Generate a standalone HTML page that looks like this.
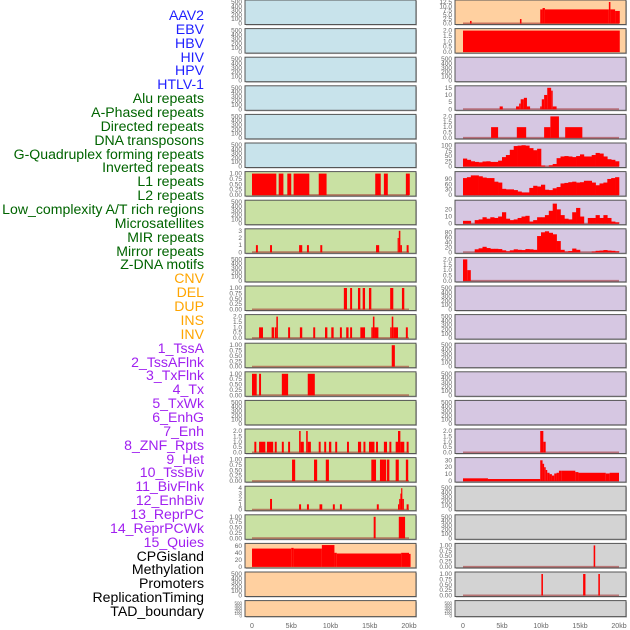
<!DOCTYPE html>
<html><head><meta charset="utf-8">
<style>
body{margin:0;background:#fff;width:630px;height:630px;overflow:hidden;font-family:"Liberation Sans",sans-serif}
#labels{position:absolute;left:0;top:0;width:204px}
.lb{position:absolute;right:0;font-size:14.1px;line-height:14px;white-space:nowrap}
svg{position:absolute;left:0;top:0}
</style></head><body>
<div id="labels"></div>
<svg id="chart" width="630" height="630"></svg>
<script>
const trackNames=["AAV2","EBV","HBV","HIV","HPV","HTLV-1","Alu repeats","A-Phased repeats","Directed repeats","DNA transposons","G-Quadruplex forming repeats","Inverted repeats","L1 repeats","L2 repeats","Low_complexity A/T rich regions","Microsatellites","MIR repeats","Mirror repeats","Z-DNA motifs","CNV","DEL","DUP","INS","INV","1_TssA","2_TssAFlnk","3_TxFlnk","4_Tx","5_TxWk","6_EnhG","7_Enh","8_ZNF_Rpts","9_Het","10_TssBiv","11_BivFlnk","12_EnhBiv","13_ReprPC","14_ReprPCWk","15_Quies","CPGisland","Methylation","Promoters","ReplicationTiming","TAD_boundary"];
const trackColors=["#1f1fff","#1f1fff","#1f1fff","#1f1fff","#1f1fff","#1f1fff","#006400","#006400","#006400","#006400","#006400","#006400","#006400","#006400","#006400","#006400","#006400","#006400","#006400","#ffa500","#ffa500","#ffa500","#ffa500","#ffa500","#a020f0","#a020f0","#a020f0","#a020f0","#a020f0","#a020f0","#a020f0","#a020f0","#a020f0","#a020f0","#a020f0","#a020f0","#a020f0","#a020f0","#a020f0","#000","#000","#000","#000","#000"];
const xTicks=[0,5,10,15,20];
const xTickLabels=["0","5kb","10kb","15kb","20kb"];

const leftL1=[[0,3.1,1],[3.4,4.0,1],[4.5,5.0,1],[5.3,7.3,1],[8.5,9.5,1],[15.7,16.4,1],[16.8,17.3,1],[19.6,20.1,1]];
const leftMIR=[[0.5,0.75,1],[2.3,2.55,1],[6.0,6.4,1],[7.0,7.25,1],[8.7,8.95,1],[15.8,16.2,1],[18.55,18.7,2],[18.7,18.9,3],[18.9,19.1,1],[19.7,19.95,1]];
const leftDEL=[[11.7,12.1,1],[12.5,12.75,1],[13.5,13.8,1],[14.1,14.4,1],[14.9,15.2,1],[17.6,18.0,1],[19.1,19.4,1]];
const leftINS=[[0.9,1.4,1],[2.5,2.8,1],[2.9,3.1,1],[3.1,3.3,2],[4.6,4.85,1],[6.1,6.4,1],[7.8,8.05,1],[9.3,9.6,1],[10.1,10.4,1],[11.2,11.45,1],[12.0,12.3,1],[12.5,12.75,1],[13.8,14.4,1],[15.2,15.4,1],[15.4,15.6,2],[15.6,16.1,1],[17.6,17.8,1],[17.8,18.0,2],[18.0,18.6,1],[19.6,19.85,1]];
const leftTssA=[[17.8,18.2,1]];
const leftTxFlnk=[[0,0.6,1],[0.9,1.15,1],[3.8,4.6,1],[7.1,8.0,1]];
const leftEnh=[[0.3,0.55,1],[0.9,1.7,1],[1.9,2.7,1],[2.9,3.15,1],[3.8,4.05,1],[4.6,4.85,1],[6.0,6.2,2],[6.2,6.6,1],[6.9,7.1,2],[7.1,7.5,1],[8.5,8.75,1],[9.2,9.45,1],[9.8,10.1,1],[10.6,10.85,1],[12.1,12.35,1],[13.5,13.9,1],[14.2,14.45,1],[14.9,15.6,1],[15.8,16.05,1],[16.8,17.2,1],[17.5,17.75,1],[18.3,18.6,1],[18.6,18.9,2],[18.9,19.4,1],[19.7,19.95,1]];
const leftHet=[[5.1,5.5,1],[7.9,8.3,1],[9.4,9.8,1],[15.2,15.8,1],[16.3,17.1,1],[17.2,17.5,1],[18.3,18.7,1],[19.6,19.9,1]];
const leftBivFlnk=[[2.3,2.55,2],[6.0,6.25,1],[7.0,7.25,1],[8.6,8.95,1],[10.3,10.55,1],[11.2,11.45,1],[15.9,16.15,1],[18.6,18.75,1],[18.75,18.9,2],[18.9,19.0,3],[19.0,19.15,4],[19.15,19.35,2],[19.7,19.95,1]];
const leftReprPC=[[15.5,15.75,1],[18.7,19.5,1]];
const leftCPG=[[0,5.0,52],[5.0,5.3,54],[5.3,8.9,52],[8.9,10.5,62],[10.5,10.8,40],[10.8,19.0,38],[19.0,20.0,40],[20.0,20.2,37]];
const rightAAV2=[[0.9,1.1,1.5],[7.3,7.5,2.6],[9.9,10.2,8.2],[10.2,10.5,9],[10.5,18.7,8.2],[18.7,18.9,12.5],[18.9,19.5,8.2],[19.5,20.1,7.3]];
const rightEBV=[[0,20.1,2]];
const rightAlu=[[4.7,5.1,2],[6.8,7.2,2],[7.2,7.4,4],[7.4,7.8,7],[7.8,8.2,8],[8.2,8.6,2],[9.9,10.1,2],[10.1,10.4,7],[10.4,10.8,10],[10.8,11.3,15],[11.3,11.5,13],[11.5,12.0,2]];
const rightDirected=[[3.6,4.5,1],[6.9,8.1,1],[10.4,11.2,1],[11.2,12.3,2],[13.1,15.3,1]];
const rightGquad=[38,32,25,22,20,24,25,22,22,28,45,55,80,98,100,102,100,88,78,85,5,0,6,12,40,48,50,48,45,50,58,48,48,55,65,62,48,35,32,25];
const rightL1=[95,100,110,110,105,98,95,95,75,70,35,32,32,28,20,15,15,40,52,48,58,30,28,38,45,65,68,72,75,70,72,80,80,70,55,65,70,90,95,100];
const rightL2=[4,4,0,5,6,9,7,9,8,10,16,7,5,6,8,10,11,3,5,9,9,12,18,28,20,12,7,6,16,22,10,0,8,8,12,8,12,8,3,2];
const rightMIR=[0,0,0,12,16,22,17,14,14,13,8,4,8,12,10,9,13,12,10,65,80,84,78,72,45,10,3,5,15,10,0,0,0,3,6,7,9,7,6,4];
const rightZDNA=[[0,0.55,2],[0.55,1.0,1]];
const rightEnh=[[9.9,10.3,2],[10.3,10.6,1]];
const rightTssBiv=[[0,3.2,4],[3.2,9.9,3],[9.9,10.2,30],[10.2,10.4,25],[10.4,10.6,20],[10.6,10.8,16],[10.8,11.1,12],[11.1,11.4,10],[11.4,11.7,8],[11.7,12.0,11],[12.0,12.3,12],[12.3,12.6,15],[12.6,14.4,15],[14.4,14.8,13],[14.8,18.3,12],[18.3,18.8,11],[18.8,20.0,12]];
const rightCPG=[[16.75,16.95,1]];
const rightMeth=[[10.05,10.25,1],[15.4,15.7,1],[17.35,17.55,1]];

const tEmpty=[0,100,200,300,400,500], tEmptyL=["0","100","200","300","400","500"];
const t1=[0,0.25,0.5,0.75,1], t1L=["0.00","0.25","0.50","0.75","1.00"];
const t2=[0,0.5,1,1.5,2], t2L=["0.0","0.5","1.0","1.5","2.0"];

const BL="#c8e3eb",GR="#c9e1a3",PE="#ffd0a0",LV="#d6c7e2",GY="#d3d3d3";
const leftPanels=[
 {bg:BL},{bg:BL},{bg:BL},{bg:BL},{bg:BL},{bg:BL},
 {bg:GR,seg:leftL1,max:1,t:t1,tl:t1L},
 {bg:GR},
 {bg:GR,seg:leftMIR,max:3,t:[0,1,2,3],tl:["0","1","2","3"]},
 {bg:GR},
 {bg:GR,seg:leftDEL,max:1,t:t1,tl:t1L},
 {bg:GR,seg:leftINS,max:2,t:t2,tl:t2L},
 {bg:GR,seg:leftTssA,max:1,t:t1,tl:t1L},
 {bg:GR,seg:leftTxFlnk,max:1,t:t1,tl:t1L},
 {bg:GR},
 {bg:GR,seg:leftEnh,max:2,t:t2,tl:t2L},
 {bg:GR,seg:leftHet,max:1,t:t1,tl:t1L},
 {bg:GR,seg:leftBivFlnk,max:4,t:[0,1,2,3,4],tl:["0","1","2","3","4"]},
 {bg:GR,seg:leftReprPC,max:1,t:t1,tl:t1L},
 {bg:PE,seg:leftCPG,max:61,t:[0,20,40,60],tl:["0","20","40","60"],nobase:1},
 {bg:PE},{bg:PE}];
const rightPanels=[
 {bg:PE,seg:rightAAV2,max:12.5,t:[0,2.5,5,7.5,10,12.5],tl:["0.0","2.5","5.0","7.5","10.0","12.5"]},
 {bg:PE,seg:rightEBV,max:2,t:t2,tl:t2L,nobase:1},
 {bg:LV},
 {bg:LV,seg:rightAlu,max:15,t:[0,5,10,15],tl:["0","5","10","15"]},
 {bg:LV,seg:rightDirected,max:2,t:t2,tl:t2L},
 {bg:LV,bins:rightGquad,max:103,t:[0,25,50,75,100],tl:["0","25","50","75","100"]},
 {bg:LV,bins:rightL1,max:120,t:[0,30,60,90],tl:["0","30","60","90"]},
 {bg:LV,bins:rightL2,max:30,t:[0,10,20],tl:["0","10","20"]},
 {bg:LV,bins:rightMIR,max:86,t:[0,20,40,60,80],tl:["0","20","40","60","80"]},
 {bg:LV,seg:rightZDNA,max:2,t:t2,tl:t2L},
 {bg:LV},{bg:LV},{bg:LV},{bg:LV},{bg:LV},
 {bg:LV,seg:rightEnh,max:2,t:t2,tl:t2L},
 {bg:LV,seg:rightTssBiv,max:31,t:[0,10,20,30],tl:["0","10","20","30"]},
 {bg:GY},{bg:GY},
 {bg:GY,seg:rightCPG,max:1,t:t1,tl:t1L},
 {bg:GY,seg:rightMeth,max:1,t:t1,tl:t1L},
 {bg:GY}];

const NS="http://www.w3.org/2000/svg";
const svg=document.getElementById('chart');
function mk(tag,at,parent){const e=document.createElementNS(NS,tag);for(const k in at)e.setAttribute(k,at[k]);(parent||svg).appendChild(e);return e;}

const lab=document.getElementById('labels');
trackNames.forEach((n,i)=>{const d=document.createElement('div');d.className='lb';d.style.top=(8+i*13.86)+'px';d.style.color=trackColors[i];d.textContent=n;


lab.appendChild(d);});

function drawColumn(panels,bx,x0,x20,side){
  const xs=kb=>x0+(kb/20)*(x20-x0);
  panels.forEach((p,i)=>{
    const top=i*28.6, h=(i===21)?16:24.5, bot=top+h;
    const g=mk('g',{});
    
    
    mk('rect',{x:bx+1,y:top+1,width:171,height:h,fill:'#bbb'},g);
    mk('rect',{x:bx,y:top,width:171,height:h,fill:p.bg,stroke:'#555','stroke-width':1},g);
    const max=p.max||500, t=p.t||tEmpty, tl=p.tl||tEmptyL;
    const ys=v=>bot-1-(v/max)*(h-3);
    t.forEach((v,k)=>{const tx=mk('text',{x:bx-3,y:ys(v)+2,'font-size':(i===21?4.5:6.5),fill:'#666','text-anchor':'end'},g);tx.textContent=tl[k];
      
      });
    if(p.seg||p.bins){
      if(!p.nobase){const bl=mk('line',{x1:xs(0),x2:xs(20),y1:bot-1.2,y2:bot-1.2,stroke:'rgba(160,40,40,0.55)','stroke-width':1.6},g);
        
        }
      if(p.seg)p.seg.forEach(s=>{const r=mk('rect',{x:xs(s[0]),y:ys(s[2]),width:Math.max(1.2,xs(s[1])-xs(s[0])),height:bot-1-ys(s[2]),fill:'#ff0000'},g);
        
        });
      if(p.bins)p.bins.forEach((v,k)=>{const r=mk('rect',{x:xs(k*0.5),y:ys(v),width:xs(0.5)-xs(0)+0.3,height:bot-1-ys(v),fill:'#ff0000'},g);
        
        });
    }
  });
  xTicks.forEach((v,k)=>{const tx=mk('text',{x:xs(v),y:628,'font-size':7,fill:'#666','text-anchor':'middle'});tx.textContent=xTickLabels[k];
    
    });
}
drawColumn(leftPanels,245,252,409,'left');
drawColumn(rightPanels,455,463,619,'right');
</script>
</body></html>
